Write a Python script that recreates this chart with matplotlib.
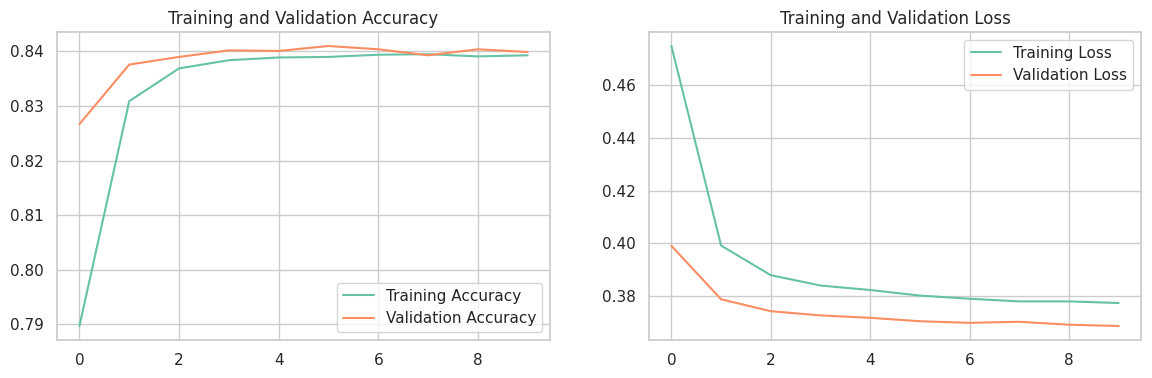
import matplotlib
matplotlib.use('Agg')
import matplotlib.pyplot as plt
import seaborn as sns

epochs = list(range(10))
train_acc = [0.7897, 0.8309, 0.8369, 0.8384, 0.8389, 0.8390, 0.8394, 0.8395, 0.8391, 0.8393]
val_acc = [0.8267, 0.8376, 0.8390, 0.8402, 0.8401, 0.8410, 0.8404, 0.8393, 0.8404, 0.8399]
train_loss = [0.4746, 0.3992, 0.3880, 0.3841, 0.3824, 0.3803, 0.3791, 0.3781, 0.3781, 0.3775]
val_loss = [0.3991, 0.3789, 0.3744, 0.3728, 0.3719, 0.3706, 0.3700, 0.3704, 0.3693, 0.3688]

sns.set_theme(style='whitegrid', palette='Set2')
plt.rcParams['font.family'] = ['DejaVu Sans']

fig = plt.figure(figsize=(11.52, 3.78), dpi=100)
ax1 = fig.add_axes([0.0495, 0.1005, 0.428, 0.8148])
ax2 = fig.add_axes([0.5634, 0.1005, 0.4271, 0.8148])

ax1.plot(epochs, train_acc, label='Training Accuracy')
ax1.plot(epochs, val_acc, label='Validation Accuracy')
ax1.legend(loc='lower right')
ax1.set_title('Training and Validation Accuracy')

ax2.plot(epochs, train_loss, label='Training Loss')
ax2.plot(epochs, val_loss, label='Validation Loss')
ax2.legend(loc='upper right')
ax2.set_title('Training and Validation Loss')

fig.savefig('out.png', dpi=100)
